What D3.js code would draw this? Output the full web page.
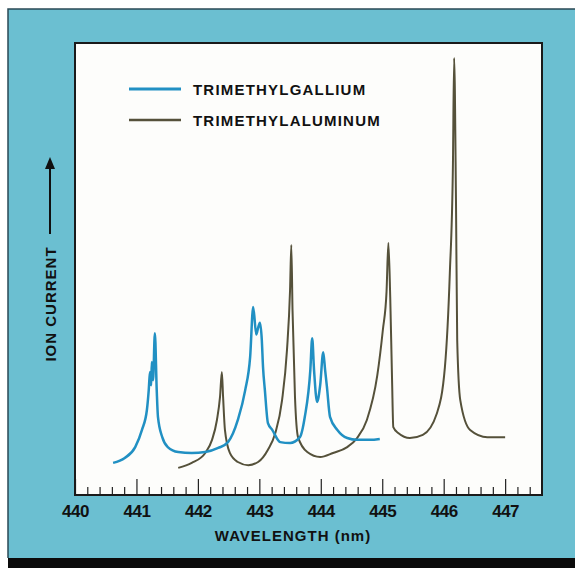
<!DOCTYPE html>
<html>
<head>
<meta charset="utf-8">
<script src="https://cdn.jsdelivr.net/npm/d3@7"></script>
<style>
	body { margin: 0; background: #fff; }
	svg { display: block; }
	text { font-family: "Liberation Sans", Arial, sans-serif; font-weight: bold; fill: #111; }
</style>
</head>
<body>
<div id="chart"></div>
<script>
// trimethylgallium trace (wavelength nm, ion current arb. units)
var tmgWavelength = [440.62, 440.81, 440.98, 441.09, 441.17, 441.20, 441.22, 441.24, 441.25, 441.27, 441.30, 441.33, 441.35, 441.42, 441.51, 441.68, 441.90, 442.12, 442.33, 442.49, 442.65, 442.77, 442.85, 442.90, 442.95, 442.98, 443.01, 443.04, 443.06, 443.09, 443.14, 443.21, 443.34, 443.50, 443.66, 443.74, 443.83, 443.86, 443.89, 443.94, 443.99, 444.04, 444.07, 444.10, 444.15, 444.27, 444.43, 444.59, 444.80, 444.96];
var tmgCurrent = [7.1, 8.2, 10.6, 14.4, 18.8, 23.2, 27.2, 24.3, 29.4, 25.4, 35.8, 23.2, 17.3, 12.8, 10.6, 9.5, 9.3, 9.5, 10.4, 11.7, 16.6, 23.2, 30.5, 41.6, 35.5, 37.0, 38.1, 34.3, 28.3, 23.2, 15.9, 14.4, 11.7, 11.5, 12.8, 17.3, 27.7, 34.7, 27.7, 20.6, 24.3, 31.6, 27.7, 23.9, 17.3, 14.4, 12.6, 12.2, 12.2, 12.4];

// trimethylaluminum trace
var tmaWavelength = [441.68, 441.90, 442.12, 442.23, 442.31, 442.36, 442.39, 442.41, 442.44, 442.52, 442.65, 442.82, 442.98, 443.14, 443.26, 443.37, 443.45, 443.50, 443.52, 443.54, 443.58, 443.63, 443.78, 443.99, 444.20, 444.43, 444.59, 444.75, 444.92, 445.01, 445.07, 445.10, 445.13, 445.16, 445.18, 445.26, 445.45, 445.66, 445.89, 446.02, 446.10, 446.15, 446.17, 446.20, 446.22, 446.27, 446.43, 446.71, 447.00];
var tmaCurrent = [6.0, 7.1, 9.3, 12.2, 16.6, 21.7, 27.2, 21.7, 14.4, 9.3, 7.3, 6.6, 7.3, 10.0, 13.7, 21.0, 32.1, 45.4, 55.3, 40.9, 21.7, 12.8, 9.5, 8.4, 9.3, 10.6, 12.6, 16.6, 26.5, 36.5, 45.0, 55.8, 43.8, 25.4, 15.0, 13.7, 12.6, 13.3, 18.1, 28.3, 49.1, 72.6, 96.7, 65.3, 34.3, 21.0, 14.4, 12.8, 12.8];

var majorTicks = [440, 441, 442, 443, 444, 445, 446, 447];
var seriesNames = ["TRIMETHYLGALLIUM", "TRIMETHYLALUMINUM"];
var seriesColors = ["#2190c3", "#55513a"];

var width = 575, height = 568;
var plot = {left: 75, right: 542, top: 43, bottom: 495};

var svg = d3.select("#chart").append("svg")
	.attr("width", width)
	.attr("height", height);

// teal frame and black strip at the bottom
svg.append("rect").attr("x", 8).attr("y", 9).attr("width", width - 8).attr("height", 549)
	.attr("fill", "#6bbfd1");
svg.append("path").attr("d", "M8,558V9H575").attr("fill", "none").attr("stroke", "#2a4a55").attr("stroke-width", 1.5);
svg.append("rect").attr("x", 8).attr("y", 558).attr("width", width - 8).attr("height", 10)
	.attr("fill", "#0b0b0b");

// plot area
svg.append("rect")
	.attr("x", plot.left).attr("y", plot.top)
	.attr("width", plot.right - plot.left).attr("height", plot.bottom - plot.top)
	.attr("fill", "#fdfdfb");

var x = d3.scaleLinear().domain([440, 447.6]).range([plot.left, plot.right]);
var y = d3.scaleLinear().domain([0, 100]).range([plot.bottom, plot.top]);

// minor ticks every 0.2 nm
var minorTicks = d3.range(0, 38).map(i => 440 + i * 0.2).filter(v => Math.abs(v - Math.round(v)) > 0.01);
svg.append("g")
	.attr("transform", "translate(0," + plot.bottom + ")")
	.call(d3.axisBottom(x).tickValues(minorTicks).tickSize(-8).tickFormat(""))
	.call(g => g.select(".domain").remove())
	.call(g => g.selectAll("line").attr("stroke", "#222").attr("stroke-width", 1.2));

var xAxis = svg.append("g")
	.attr("transform", "translate(0," + plot.bottom + ")")
	.call(d3.axisBottom(x).tickValues(majorTicks).tickSize(-16).tickPadding(10).tickFormat(d3.format("d")))
	.call(g => g.select(".domain").remove())
	.call(g => g.selectAll("line").attr("stroke", "#222").attr("stroke-width", 1.2));
xAxis.selectAll("text")
	.attr("font-size", 17)
	.attr("font-family", "'Liberation Sans', Arial, sans-serif")
	.attr("font-weight", "bold")
	.attr("letter-spacing", -0.5)
	.attr("fill", "#111");

// plot border
svg.append("rect")
	.attr("x", plot.left).attr("y", plot.top)
	.attr("width", plot.right - plot.left).attr("height", plot.bottom - plot.top)
	.attr("fill", "none").attr("stroke", "#1a1a1a").attr("stroke-width", 2);

// traces
var line = d3.line()
	.x(d => x(d[0]))
	.y(d => y(d[1]))
	.curve(d3.curveMonotoneX);

var tma = d3.zip(tmaWavelength, tmaCurrent);
var tmg = d3.zip(tmgWavelength, tmgCurrent);

svg.append("path").datum(tma)
	.attr("d", line).attr("fill", "none")
	.attr("stroke", seriesColors[1]).attr("stroke-width", 2);
svg.append("path").datum(tmg)
	.attr("d", line).attr("fill", "none")
	.attr("stroke", seriesColors[0]).attr("stroke-width", 2.5);

// legend
var legend = svg.append("g").attr("class", "legend");
seriesNames.forEach(function(name, i) {
	var ly = 89 + i * 31;
	legend.append("line")
		.attr("x1", 129).attr("x2", 181).attr("y1", ly).attr("y2", ly)
		.attr("stroke", seriesColors[i]).attr("stroke-width", i == 0 ? 3 : 2.5);
	legend.append("text")
		.attr("x", 193).attr("y", ly + 6)
		.attr("font-size", 15).attr("letter-spacing", 1.2)
		.text(name);
});

// axis titles
svg.append("text")
	.attr("x", 293).attr("y", 541)
	.attr("text-anchor", "middle")
	.attr("font-size", 15).attr("letter-spacing", 1)
	.text("WAVELENGTH (nm)");

svg.append("text")
	.attr("transform", "translate(56,304) rotate(-90)")
	.attr("text-anchor", "middle")
	.attr("font-size", 15).attr("letter-spacing", 1)
	.text("ION CURRENT");

// arrow pointing up
svg.append("line")
	.attr("x1", 50).attr("x2", 50).attr("y1", 234).attr("y2", 166)
	.attr("stroke", "#111").attr("stroke-width", 2);
svg.append("path")
	.attr("d", "M50,157L45,169L55,169Z")
	.attr("fill", "#111");
</script>
</body>
</html>
